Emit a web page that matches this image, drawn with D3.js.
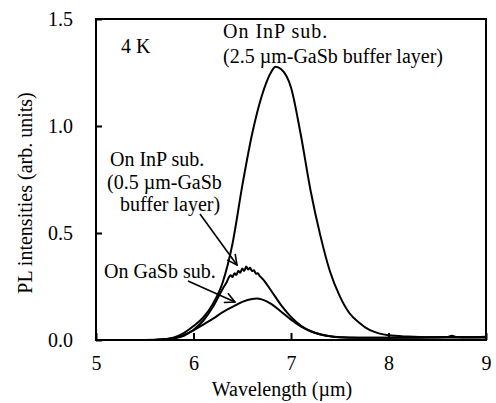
<!DOCTYPE html>
<html><head><meta charset="utf-8">
<script src="https://cdn.jsdelivr.net/npm/d3@7"></script>
<style>
html,body{margin:0;padding:0;background:#fff;}
svg text{font-family:"Liberation Serif","Times New Roman",serif;fill:#000;}
</style></head>
<body><svg id="c" width="496" height="403"></svg>
<script>
// ---- data ----
const xTicks = [5, 6, 7, 8, 9];
const yTicks = [0.0, 0.5, 1.0, 1.5];
const xLabel = "Wavelength (\u00b5m)";
const yLabel = "PL intensities (arb. units)";

// On InP sub. (2.5 um GaSb buffer)
const wlA = [5.0,5.5,5.7,5.8,5.9,6.0,6.1,6.2,6.3,6.4,6.5,6.6,6.7,6.8,6.84,6.9,7.0,7.1,7.2,7.3,7.4,7.5,7.6,7.7,7.8,7.9,8.0,8.2,8.4,8.6,8.65,8.7,8.8,9.0];
const plA = [0,0,0.003,0.012,0.032,0.065,0.105,0.17,0.27,0.45,0.72,0.96,1.14,1.255,1.277,1.265,1.18,0.96,0.70,0.49,0.32,0.205,0.125,0.081,0.048,0.031,0.022,0.016,0.013,0.014,0.02,0.014,0.013,0.015];

// On InP sub. (0.5 um GaSb buffer) - noisy
const wlB = [5.0,5.6,5.7,5.8,5.9,6.0,6.1,6.2,6.3,6.34,6.36,6.38,6.40,6.42,6.44,6.46,6.48,6.50,6.52,6.54,6.56,6.58,6.60,6.62,6.64,6.66,6.68,6.7,6.8,6.9,7.0,7.1,7.2,7.3,7.4,7.5,7.7,8.0,8.3,8.6,9.0];
const plB = [0,0,0.003,0.008,0.02,0.048,0.09,0.155,0.24,0.27,0.29,0.302,0.294,0.312,0.304,0.324,0.314,0.334,0.322,0.343,0.33,0.338,0.322,0.326,0.31,0.312,0.298,0.29,0.228,0.162,0.108,0.068,0.042,0.026,0.017,0.013,0.011,0.011,0.012,0.014,0.013];

// On GaSb sub.
const wlC = [5.0,5.6,5.7,5.8,5.9,6.0,6.1,6.2,6.3,6.4,6.5,6.6,6.65,6.7,6.8,6.9,7.0,7.1,7.2,7.3,7.4,7.5,7.7,8.0,8.3,8.6,9.0];
const plC = [0,0,0.003,0.009,0.022,0.045,0.072,0.1,0.13,0.155,0.178,0.192,0.194,0.19,0.168,0.132,0.095,0.064,0.041,0.027,0.018,0.013,0.01,0.01,0.011,0.012,0.012];

const notes = ["4 K", "On InP sub.", "(2.5 \u00b5m-GaSb buffer layer)", "On InP sub.", "(0.5 \u00b5m-GaSb", "buffer layer)", "On GaSb sub."];

// ---- drawing ----
const svg = d3.select("#c");
const L = 96, R = 486, T = 19, B = 340;
const x = d3.scaleLinear().domain([5, 9]).range([L, R]);
const y = d3.scaleLinear().domain([0, 1.5]).range([B, T]);

const defs = svg.append("defs");
defs.append("marker").attr("id","arr").attr("viewBox","0 0 12 12").attr("refX",11).attr("refY",6)
  .attr("markerWidth",12).attr("markerHeight",12).attr("markerUnits","userSpaceOnUse").attr("orient","auto")
  .append("path").attr("d","M1,1 L11,6 L1,11").attr("fill","none").attr("stroke","#000").attr("stroke-width",1.6);

const fs = 20;
// axes
const xAxis = d3.axisBottom(x).tickValues(xTicks).tickFormat(d3.format("d")).tickSizeInner(-7).tickSizeOuter(0).tickPadding(16);
const gx = svg.append("g").attr("transform", `translate(0,${B})`).call(xAxis);
const yAxis = d3.axisLeft(y).tickValues(yTicks).tickFormat(d3.format(".1f")).tickSizeInner(-6).tickSizeOuter(0).tickPadding(23);
const gy = svg.append("g").attr("transform", `translate(${L},0)`).call(yAxis);
[gx, gy].forEach(g => {
  g.select(".domain").remove();
  g.selectAll("line").attr("stroke","#000").attr("stroke-width",2);
  g.selectAll("text").attr("font-family","Liberation Serif").attr("font-size",fs).attr("fill","#000");
});
// frame
svg.append("rect").attr("x",L).attr("y",T).attr("width",R-L).attr("height",B-T)
  .attr("fill","none").attr("stroke","#000").attr("stroke-width",2);

// curves
const line = d3.line().x(d => x(d[0])).y(d => y(d[1])).curve(d3.curveMonotoneX);
[[wlA,plA],[wlB,plB],[wlC,plC]].forEach(([w,p]) => {
  svg.append("path").datum(w.map((v,i)=>[v,p[i]])).attr("d", line)
    .attr("fill","none").attr("stroke","#000").attr("stroke-width",2).attr("stroke-linejoin","round");
});

// axis titles
svg.append("text").attr("x",282).attr("y",396).attr("text-anchor","middle").attr("font-size",fs).text(xLabel);
svg.append("text").attr("transform","translate(32,193) rotate(-90)").attr("text-anchor","middle").attr("font-size",fs).text(yLabel);

// annotations
const txt = (s, px, py) => svg.append("text").attr("x",px).attr("y",py).attr("font-size",fs).text(s);
txt(notes[0], 121, 53);
txt(notes[1], 223, 38).attr("letter-spacing", 1);
txt(notes[2], 223, 63);
txt(notes[3], 110, 166);
txt(notes[4], 107, 189);
txt(notes[5], 120, 211);
txt(notes[6], 104, 278);

// arrows
svg.append("line").attr("x1",200).attr("y1",214).attr("x2",237).attr("y2",265)
  .attr("stroke","#000").attr("stroke-width",1.6).attr("marker-end","url(#arr)");
svg.append("line").attr("x1",188).attr("y1",281).attr("x2",235).attr("y2",302)
  .attr("stroke","#000").attr("stroke-width",1.6).attr("marker-end","url(#arr)");
</script></body></html>
